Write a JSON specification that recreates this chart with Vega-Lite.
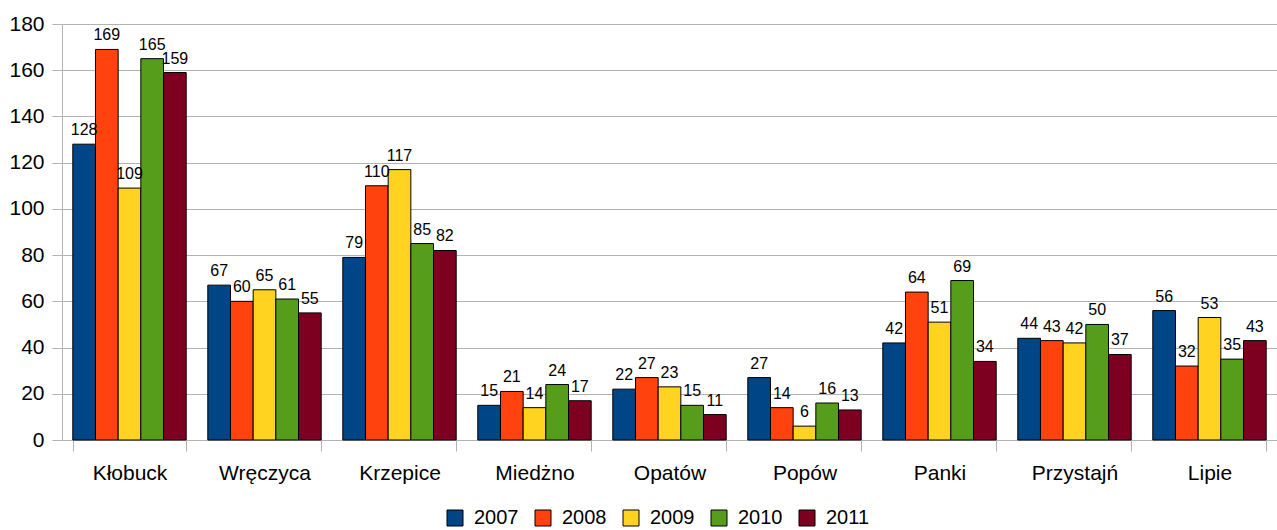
{
  "$schema": "https://vega.github.io/schema/vega-lite/v6.json",
  "width": 1215,
  "height": 416,
  "autosize": {"type": "none"},
  "padding": {"left": 62, "top": 24, "right": 0, "bottom": 90},
  "background": "white",
  "config": {
    "font": "Liberation Sans",
    "view": {"stroke": null}
  },
  "data": {
    "values": [
      {"gmina": "Kłobuck", "rok": "2007", "v": 128},
      {"gmina": "Kłobuck", "rok": "2008", "v": 169},
      {"gmina": "Kłobuck", "rok": "2009", "v": 109},
      {"gmina": "Kłobuck", "rok": "2010", "v": 165},
      {"gmina": "Kłobuck", "rok": "2011", "v": 159},
      {"gmina": "Wręczyca", "rok": "2007", "v": 67},
      {"gmina": "Wręczyca", "rok": "2008", "v": 60},
      {"gmina": "Wręczyca", "rok": "2009", "v": 65},
      {"gmina": "Wręczyca", "rok": "2010", "v": 61},
      {"gmina": "Wręczyca", "rok": "2011", "v": 55},
      {"gmina": "Krzepice", "rok": "2007", "v": 79},
      {"gmina": "Krzepice", "rok": "2008", "v": 110},
      {"gmina": "Krzepice", "rok": "2009", "v": 117},
      {"gmina": "Krzepice", "rok": "2010", "v": 85},
      {"gmina": "Krzepice", "rok": "2011", "v": 82},
      {"gmina": "Miedżno", "rok": "2007", "v": 15},
      {"gmina": "Miedżno", "rok": "2008", "v": 21},
      {"gmina": "Miedżno", "rok": "2009", "v": 14},
      {"gmina": "Miedżno", "rok": "2010", "v": 24},
      {"gmina": "Miedżno", "rok": "2011", "v": 17},
      {"gmina": "Opatów", "rok": "2007", "v": 22},
      {"gmina": "Opatów", "rok": "2008", "v": 27},
      {"gmina": "Opatów", "rok": "2009", "v": 23},
      {"gmina": "Opatów", "rok": "2010", "v": 15},
      {"gmina": "Opatów", "rok": "2011", "v": 11},
      {"gmina": "Popów", "rok": "2007", "v": 27},
      {"gmina": "Popów", "rok": "2008", "v": 14},
      {"gmina": "Popów", "rok": "2009", "v": 6},
      {"gmina": "Popów", "rok": "2010", "v": 16},
      {"gmina": "Popów", "rok": "2011", "v": 13},
      {"gmina": "Panki", "rok": "2007", "v": 42},
      {"gmina": "Panki", "rok": "2008", "v": 64},
      {"gmina": "Panki", "rok": "2009", "v": 51},
      {"gmina": "Panki", "rok": "2010", "v": 69},
      {"gmina": "Panki", "rok": "2011", "v": 34},
      {"gmina": "Przystajń", "rok": "2007", "v": 44},
      {"gmina": "Przystajń", "rok": "2008", "v": 43},
      {"gmina": "Przystajń", "rok": "2009", "v": 42},
      {"gmina": "Przystajń", "rok": "2010", "v": 50},
      {"gmina": "Przystajń", "rok": "2011", "v": 37},
      {"gmina": "Lipie", "rok": "2007", "v": 56},
      {"gmina": "Lipie", "rok": "2008", "v": 32},
      {"gmina": "Lipie", "rok": "2009", "v": 53},
      {"gmina": "Lipie", "rok": "2010", "v": 35},
      {"gmina": "Lipie", "rok": "2011", "v": 43}
    ]
  },
  "encoding": {
    "x": {
      "field": "gmina",
      "type": "nominal",
      "sort": null,
      "title": null,
      "scale": {"paddingInner": 0.16, "paddingOuter": 0.08},
      "axis": {
        "labelAngle": 0,
        "labelFontSize": 21,
        "labelColor": "black",
        "labelPadding": 11,
        "tickBand": "extent",
        "tickSize": 11,
        "tickColor": "#b3b3b3",
        "domainColor": "#b3b3b3",
        "grid": false
      }
    },
    "xOffset": {"field": "rok", "type": "nominal", "sort": null},
    "y": {
      "field": "v",
      "type": "quantitative",
      "title": null,
      "scale": {"domain": [0, 180], "nice": false},
      "axis": {
        "values": [0, 20, 40, 60, 80, 100, 120, 140, 160, 180],
        "labelFontSize": 21,
        "labelColor": "black",
        "labelPadding": 8,
        "tickSize": 10,
        "tickColor": "#b3b3b3",
        "domainColor": "#b3b3b3",
        "gridColor": "#b3b3b3",
        "gridOpacity": 1
      }
    }
  },
  "layer": [
    {
      "mark": {"type": "bar", "stroke": "black", "strokeWidth": 1},
      "encoding": {
        "color": {
          "field": "rok",
          "type": "nominal",
          "title": null,
          "scale": {
            "domain": ["2007", "2008", "2009", "2010", "2011"],
            "range": ["#004586", "#ff420e", "#ffd320", "#579d1c", "#7e0021"]
          },
          "legend": {
            "orient": "none",
            "direction": "horizontal",
            "legendX": 383,
            "legendY": 484,
            "symbolType": "square",
            "symbolSize": 256,
            "symbolStrokeColor": "black",
            "symbolStrokeWidth": 1,
            "symbolOpacity": 1,
            "labelFontSize": 20,
            "labelColor": "black",
            "columnPadding": 14,
            "labelOffset": 9
          }
        }
      }
    },
    {
      "mark": {"type": "text", "baseline": "bottom", "dy": -6, "fontSize": 16, "color": "black"},
      "encoding": {"text": {"field": "v", "type": "quantitative"}}
    }
  ]
}
